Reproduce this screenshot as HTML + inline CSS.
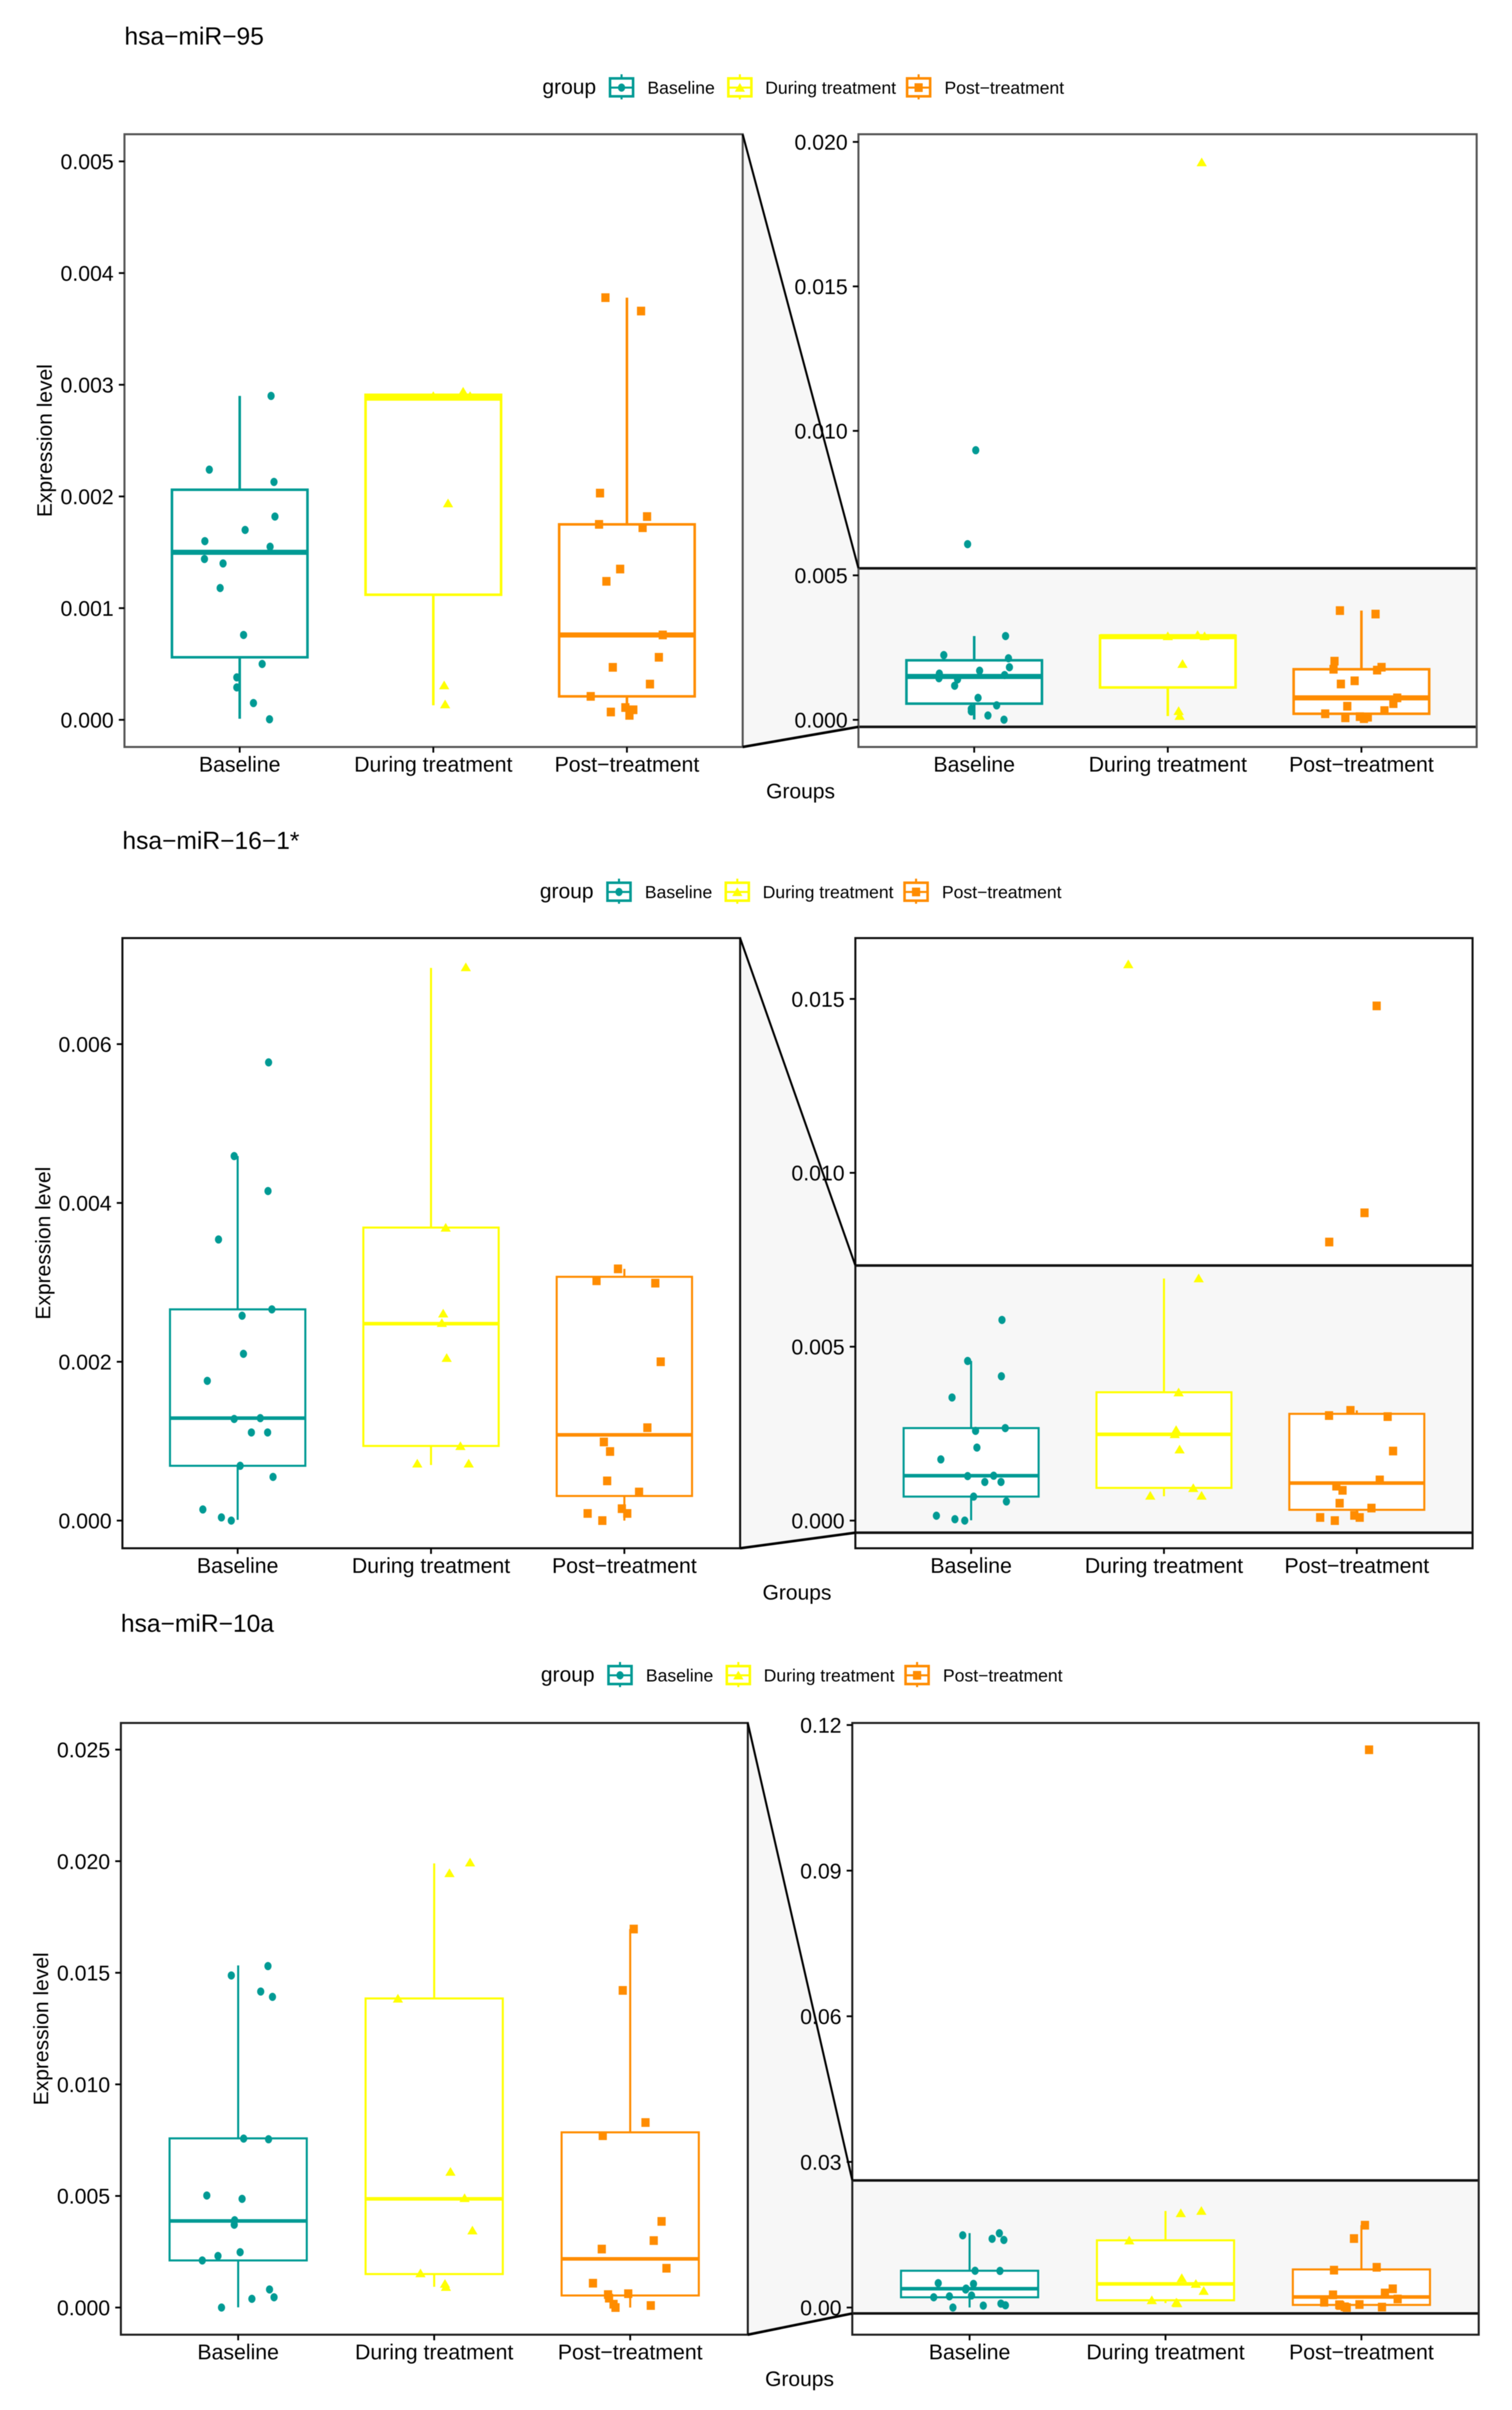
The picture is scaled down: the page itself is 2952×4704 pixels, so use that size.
<!DOCTYPE html>
<html lang="en">
<head>
<meta charset="utf-8">
<title>miRNA expression level by treatment group</title>
<style>
  html, body { margin: 0; padding: 0; background: #ffffff; }
  svg { display: block; filter: blur(0.7px); }
  text { font-family: "Liberation Sans", Arial, sans-serif; fill: #000000; }
</style>
</head>
<body>
<svg id="chart" xmlns="http://www.w3.org/2000/svg" width="2952" height="4704" viewBox="0 0 2952 4704"></svg>
<script>
// ---------- shared categories ----------
const categories = ['Baseline', 'During treatment', 'Post\u2212treatment'];
const xAxisTitle = 'Groups';
const yAxisTitle = 'Expression level';
const legendTitle = 'group';

// ---------- hsa-miR-95 ----------
const mir95BaselineValues = [0.0029,0.00224,0.00213,0.00182,0.0017,0.0016,0.00155,0.00144,0.0014,0.00118,0.00076,0.0005,0.00038,0.00029,0.00015,0.000005,0.00933,0.00608];
const mir95BaselineJitter = [0.162,-0.157,0.177,0.182,0.028,-0.18,0.157,-0.182,-0.086,-0.101,0.02,0.116,-0.015,-0.015,0.071,0.154,0.008,-0.034];
const mir95DuringValues = [0.00294,0.0029,0.0029,0.00194,0.00031,0.00014,0.0193];
const mir95DuringJitter = [0.154,0,0.19,0.076,0.056,0.061,0.175];
const mir95PostValues = [0.00378,0.00366,0.00203,0.00182,0.00175,0.00172,0.00135,0.00124,0.00076,0.00056,0.00047,0.00032,0.00021,0.00011,0.00009,0.00007,0.00004];
const mir95PostJitter = [-0.111,0.073,-0.139,0.104,-0.144,0.081,-0.035,-0.106,0.185,0.165,-0.073,0.119,-0.187,-0.008,0.033,-0.083,0.013];
const mir95Q1 = [0.00056,0.00112,0.00021];
const mir95Median = [0.0015,0.00288,0.00076];
const mir95Q3 = [0.00206,0.00291,0.00175];
const mir95WhiskerLow = [0.00001,0.00013,0.00001];
const mir95WhiskerHigh = [0.0029,0.00291,0.00378];
const mir95LeftTicks = [0,0.001,0.002,0.003,0.004,0.005];
const mir95LeftTickLabels = ['0.000','0.001','0.002','0.003','0.004','0.005'];
const mir95RightTicks = [0,0.005,0.01,0.015,0.02];
const mir95RightTickLabels = ['0.000','0.005','0.010','0.015','0.020'];

// ---------- hsa-miR-16-1* ----------
const mir16BaselineValues = [0.00577,0.00459,0.00415,0.00354,0.00266,0.00258,0.0021,0.00176,0.00128,0.00129,0.00111,0.00111,0.00069,0.00055,0.00014,0.00004,0];
const mir16BaselineJitter = [0.16,-0.018,0.157,-0.099,0.177,0.023,0.03,-0.157,-0.018,0.117,0.071,0.155,0.013,0.183,-0.18,-0.084,-0.033];
const mir16DuringValues = [0.00697,0.00369,0.00261,0.00249,0.00205,0.00094,0.00072,0.00072,0.016];
const mir16DuringJitter = [0.18,0.076,0.063,0.056,0.081,0.152,-0.071,0.195,-0.185];
const mir16PostValues = [0.00317,0.00302,0.00299,0.002,0.00117,0.00099,0.00087,0.0005,0.00036,0.00015,0.00009,0.00009,0,0.0148,0.00885,0.00801];
const mir16PostJitter = [-0.033,-0.144,0.16,0.188,0.119,-0.106,-0.074,-0.089,0.076,-0.013,0.015,-0.19,-0.114,0.103,0.04,-0.143];
const mir16Q1 = [0.00069,0.00094,0.00031];
const mir16Median = [0.00129,0.00248,0.00108];
const mir16Q3 = [0.00266,0.00369,0.00307];
const mir16WhiskerLow = [0.00001,0.0007,0];
const mir16WhiskerHigh = [0.00459,0.00696,0.00317];
const mir16LeftTicks = [0,0.002,0.004,0.006];
const mir16LeftTickLabels = ['0.000','0.002','0.004','0.006'];
const mir16RightTicks = [0,0.005,0.01,0.015];
const mir16RightTickLabels = ['0.000','0.005','0.010','0.015'];

// ---------- hsa-miR-10a ----------
const mir10BaselineValues = [0.0153,0.01488,0.01416,0.01392,0.00757,0.00754,0.00502,0.00487,0.00391,0.00371,0.00248,0.00231,0.00211,0.00081,0.00046,0.00039,0];
const mir10BaselineJitter = [0.152,-0.035,0.115,0.175,0.028,0.155,-0.16,0.02,-0.018,-0.02,0.01,-0.103,-0.183,0.16,0.183,0.07,-0.085];
const mir10DuringValues = [0.01995,0.01947,0.01385,0.00609,0.00491,0.00346,0.00154,0.00107,0.00093];
const mir10DuringJitter = [0.183,0.078,-0.185,0.083,0.155,0.195,-0.07,0.055,0.06];
const mir10PostValues = [0.01696,0.01421,0.00829,0.0077,0.00386,0.003,0.00262,0.00176,0.00109,0.00058,0.00062,0.00042,0.00015,0,0.00009,0.1149];
const mir10PostJitter = [0.018,-0.038,0.078,-0.14,0.16,0.12,-0.145,0.185,-0.19,-0.113,-0.01,-0.108,-0.085,-0.075,0.105,0.039];
const mir10Q1 = [0.00211,0.0015,0.00054];
const mir10Median = [0.00388,0.00487,0.00218];
const mir10Q3 = [0.00758,0.01385,0.00785];
const mir10WhiskerLow = [0.00001,0.00093,0];
const mir10WhiskerHigh = [0.01533,0.0199,0.01696];
const mir10LeftTicks = [0,0.005,0.01,0.015,0.02,0.025];
const mir10LeftTickLabels = ['0.000','0.005','0.010','0.015','0.020','0.025'];
const mir10RightTicks = [0,0.03,0.06,0.09,0.12];
const mir10RightTickLabels = ['0.00','0.03','0.06','0.09','0.12'];

// ---------- drawing ----------
const colors = ['#009A94', '#FFFF00', '#FF8C00'];
const NS = 'http://www.w3.org/2000/svg';
const root = document.getElementById('chart');

function make(tag, attrs, parent, content) {
  const node = document.createElementNS(NS, tag);
  for (const key in attrs) node.setAttribute(key, attrs[key]);
  if (content !== undefined) node.textContent = content;
  parent.appendChild(node);
  return node;
}

function drawMarker(group, cx, cy, parent, size) {
  const s = size || 1;
  let el;
  if (group === 0) {
    el = make('ellipse', {cx: cx, cy: cy, rx: 7 * s, ry: 8 * s, fill: colors[0]}, parent);
  } else if (group === 1) {
    const pts = [cx, cy - 9 * s, cx + 10 * s, cy + 8 * s, cx - 10 * s, cy + 8 * s].join(' ');
    el = make('polygon', {points: pts, fill: colors[1]}, parent);
  } else {
    el = make('rect', {x: cx - 8 * s, y: cy - 8.5 * s, width: 16 * s, height: 17 * s, fill: colors[2]}, parent);
  }
  return el;
}

function drawPanel(fig, panel, ticks, tickLabels, suffix, withBand) {
  const xOf = function (i) { return panel.firstCat + i * panel.catStep; };
  const yOf = function (v) { return panel.zeroY - v * panel.pxPerUnit; };

  const g = make('g', {}, root);
  
  

  const bg = make('rect', {x: panel.left, y: panel.top, width: panel.right - panel.left, height: panel.bottom - panel.top, fill: '#ffffff'}, g);
  
  

  const clipId = fig.id + '-' + suffix + '-clip';
  const clip = make('clipPath', {id: clipId}, g);
  make('rect', {x: panel.left, y: panel.top, width: panel.right - panel.left, height: panel.bottom - panel.top}, clip);
  const marks = make('g', {'clip-path': 'url(#' + clipId + ')'}, g);
  
  

  if (withBand) {
    const lp = fig.left;
    const hiValue = (lp.zeroY - lp.top) / lp.pxPerUnit;
    const loValue = (lp.zeroY - lp.bottom) / lp.pxPerUnit;
    const bandTop = yOf(hiValue);
    const bandBottom = yOf(loValue);

    const connector = make('polygon', {
      points: [lp.right, lp.top, panel.left, bandTop, panel.left, bandBottom, lp.right, lp.bottom].join(' '),
      fill: '#f7f7f7'
    }, fig.under);
    
    

    const lineTop = make('line', {x1: lp.right, y1: lp.top, x2: panel.left, y2: bandTop, stroke: '#000', 'stroke-width': 4}, fig.over);
    
    
    const lineBottom = make('line', {x1: lp.right, y1: lp.bottom, x2: panel.left, y2: bandBottom, stroke: '#000', 'stroke-width': 5}, fig.over);
    
    

    const band = make('rect', {x: panel.left, y: bandTop, width: panel.right - panel.left, height: bandBottom - bandTop, fill: '#f7f7f7'}, marks);
    
    
    [bandTop, bandBottom].forEach(function (by) {
      const bl = make('line', {x1: panel.left, x2: panel.right, y1: by, y2: by, stroke: '#111', 'stroke-width': 5}, marks);
      
      
    });
  }

  const boxW = panel.catStep * 0.7;
  categories.forEach(function (cat, i) {
    const c = colors[i];
    const cx = xOf(i);
    const whisker = make('line', {x1: cx, x2: cx, y1: yOf(fig.whiskerLow[i]), y2: yOf(fig.whiskerHigh[i]), stroke: c, 'stroke-width': fig.lineWidth}, marks);
    
    
    const box = make('rect', {x: cx - boxW / 2, y: yOf(fig.q3[i]), width: boxW, height: yOf(fig.q1[i]) - yOf(fig.q3[i]), fill: '#ffffff', stroke: c, 'stroke-width': fig.lineWidth}, marks);
    
    
    const med = make('line', {x1: cx - boxW / 2, x2: cx + boxW / 2, y1: yOf(fig.median[i]), y2: yOf(fig.median[i]), stroke: c, 'stroke-width': fig.medianWidth}, marks);
    
    
  });

  categories.forEach(function (cat, i) {
    fig.values[i].forEach(function (v, k) {
      const px = xOf(i) + fig.jitter[i][k] * panel.catStep;
      const pt = drawMarker(i, px, yOf(v), marks);
      
      
    });
  });

  const border = make('rect', {x: panel.left, y: panel.top, width: panel.right - panel.left, height: panel.bottom - panel.top, fill: 'none', stroke: fig.borderColor, 'stroke-width': 4}, g);
  
  

  ticks.forEach(function (t, i) {
    const ty = yOf(t);
    const tick = make('line', {x1: panel.left - 11, x2: panel.left, y1: ty, y2: ty, stroke: '#000', 'stroke-width': 3.5}, g);
    
    
    const label = make('text', {x: panel.left - 21, y: ty + 15, 'text-anchor': 'end', 'font-size': 41.5}, g, tickLabels[i]);
    
    
  });

  categories.forEach(function (cat, i) {
    const cx = xOf(i);
    const tick = make('line', {x1: cx, x2: cx, y1: panel.bottom, y2: panel.bottom + 11, stroke: '#000', 'stroke-width': 3.5}, g);
    
    
    const label = make('text', {x: cx, y: panel.bottom + 48, 'text-anchor': 'middle', 'font-size': 41.5}, g, cat);
    
    
  });
}

function drawLegend(fig) {
  const g = make('g', {}, root);
  
  
  const dx = fig.legendShift;
  const cy = fig.legendY;
  const title = make('text', {x: 1059 + dx, y: cy + 12, 'font-size': 41}, g, legendTitle);
  
  
  const keyLeft = [1189, 1420, 1769];
  const labelLeft = [1264, 1494, 1844];
  categories.forEach(function (cat, i) {
    const entry = make('g', {}, g);
    
    
    const kx = keyLeft[i] + dx;
    const mid = kx + 24.5;
    make('line', {x1: mid, x2: mid, y1: cy - 26, y2: cy + 23, stroke: colors[i], 'stroke-width': 4}, entry);
    make('rect', {x: kx + 2, y: cy - 18, width: 45, height: 35, fill: '#ffffff', stroke: colors[i], 'stroke-width': 5}, entry);
    make('line', {x1: kx + 2, x2: kx + 47, y1: cy, y2: cy, stroke: colors[i], 'stroke-width': 4}, entry);
    drawMarker(i, mid, cy, entry, 1);
    make('text', {x: labelLeft[i] + dx, y: cy + 12, 'font-size': 34.3, fill: '#1a1a1a'}, entry, cat);
  });
}

function drawFigure(fig) {
  const title = make('text', {x: fig.titleX, y: fig.titleY, 'font-size': 48}, root, fig.title);
  
  

  drawLegend(fig);

  fig.under = make('g', {}, root);
  
  

  drawPanel(fig, fig.left, fig.leftTicks, fig.leftTickLabels, 'main', false);
  fig.over = make('g', {}, root);
  
  
  drawPanel(fig, fig.right, fig.rightTicks, fig.rightTickLabels, 'zoom', true);
  root.appendChild(fig.over);

  const yl = make('text', {
    x: 0, y: 0, 'font-size': 41, 'text-anchor': 'middle',
    transform: 'translate(' + fig.yTitleX + ' ' + ((fig.left.top + fig.left.bottom) / 2) + ') rotate(-90)'
  }, root, yAxisTitle);
  
  

  const xl = make('text', {x: fig.xTitleX, y: fig.left.bottom + 100, 'text-anchor': 'middle', 'font-size': 41}, root, xAxisTitle);
  
  
}

drawFigure({
  id: 'mir-95', title: 'hsa\u2212miR\u221295', titleX: 243, titleY: 87, legendY: 171, legendShift: 0,
  yTitleX: 101, xTitleX: 1563, lineWidth: 5, medianWidth: 10, borderColor: '#555555',
  left: {left: 243, right: 1450, top: 262, bottom: 1458, firstCat: 468, catStep: 378, zeroY: 1405, pxPerUnit: 218000},
  right: {left: 1676, right: 2883, top: 262, bottom: 1458, firstCat: 1902, catStep: 378, zeroY: 1405, pxPerUnit: 56400},
  values: [mir95BaselineValues, mir95DuringValues, mir95PostValues],
  jitter: [mir95BaselineJitter, mir95DuringJitter, mir95PostJitter],
  q1: mir95Q1, median: mir95Median, q3: mir95Q3, whiskerLow: mir95WhiskerLow, whiskerHigh: mir95WhiskerHigh,
  leftTicks: mir95LeftTicks, leftTickLabels: mir95LeftTickLabels,
  rightTicks: mir95RightTicks, rightTickLabels: mir95RightTickLabels
});

drawFigure({
  id: 'mir-16-1', title: 'hsa\u2212miR\u221216\u22121*', titleX: 239, titleY: 1657, legendY: 1741, legendShift: -5,
  yTitleX: 98, xTitleX: 1556, lineWidth: 4, medianWidth: 7, borderColor: '#111111',
  left: {left: 239, right: 1445, top: 1831, bottom: 3022, firstCat: 464, catStep: 377.5, zeroY: 2968, pxPerUnit: 155000},
  right: {left: 1670, right: 2875, top: 1831, bottom: 3022, firstCat: 1896, catStep: 376.5, zeroY: 2968, pxPerUnit: 67880},
  values: [mir16BaselineValues, mir16DuringValues, mir16PostValues],
  jitter: [mir16BaselineJitter, mir16DuringJitter, mir16PostJitter],
  q1: mir16Q1, median: mir16Median, q3: mir16Q3, whiskerLow: mir16WhiskerLow, whiskerHigh: mir16WhiskerHigh,
  leftTicks: mir16LeftTicks, leftTickLabels: mir16LeftTickLabels,
  rightTicks: mir16RightTicks, rightTickLabels: mir16RightTickLabels
});

drawFigure({
  id: 'mir-10a', title: 'hsa\u2212miR\u221210a', titleX: 236, titleY: 3185, legendY: 3270, legendShift: -3,
  yTitleX: 94, xTitleX: 1561, lineWidth: 4, medianWidth: 7, borderColor: '#222222',
  left: {left: 236, right: 1460, top: 3363, bottom: 4557, firstCat: 465, catStep: 382.7, zeroY: 4504, pxPerUnit: 43560},
  right: {left: 1664, right: 2887, top: 3363, bottom: 4557, firstCat: 1893, catStep: 382.5, zeroY: 4504, pxPerUnit: 9475},
  values: [mir10BaselineValues, mir10DuringValues, mir10PostValues],
  jitter: [mir10BaselineJitter, mir10DuringJitter, mir10PostJitter],
  q1: mir10Q1, median: mir10Median, q3: mir10Q3, whiskerLow: mir10WhiskerLow, whiskerHigh: mir10WhiskerHigh,
  leftTicks: mir10LeftTicks, leftTickLabels: mir10LeftTickLabels,
  rightTicks: mir10RightTicks, rightTickLabels: mir10RightTickLabels
});
</script>
</body>
</html>
